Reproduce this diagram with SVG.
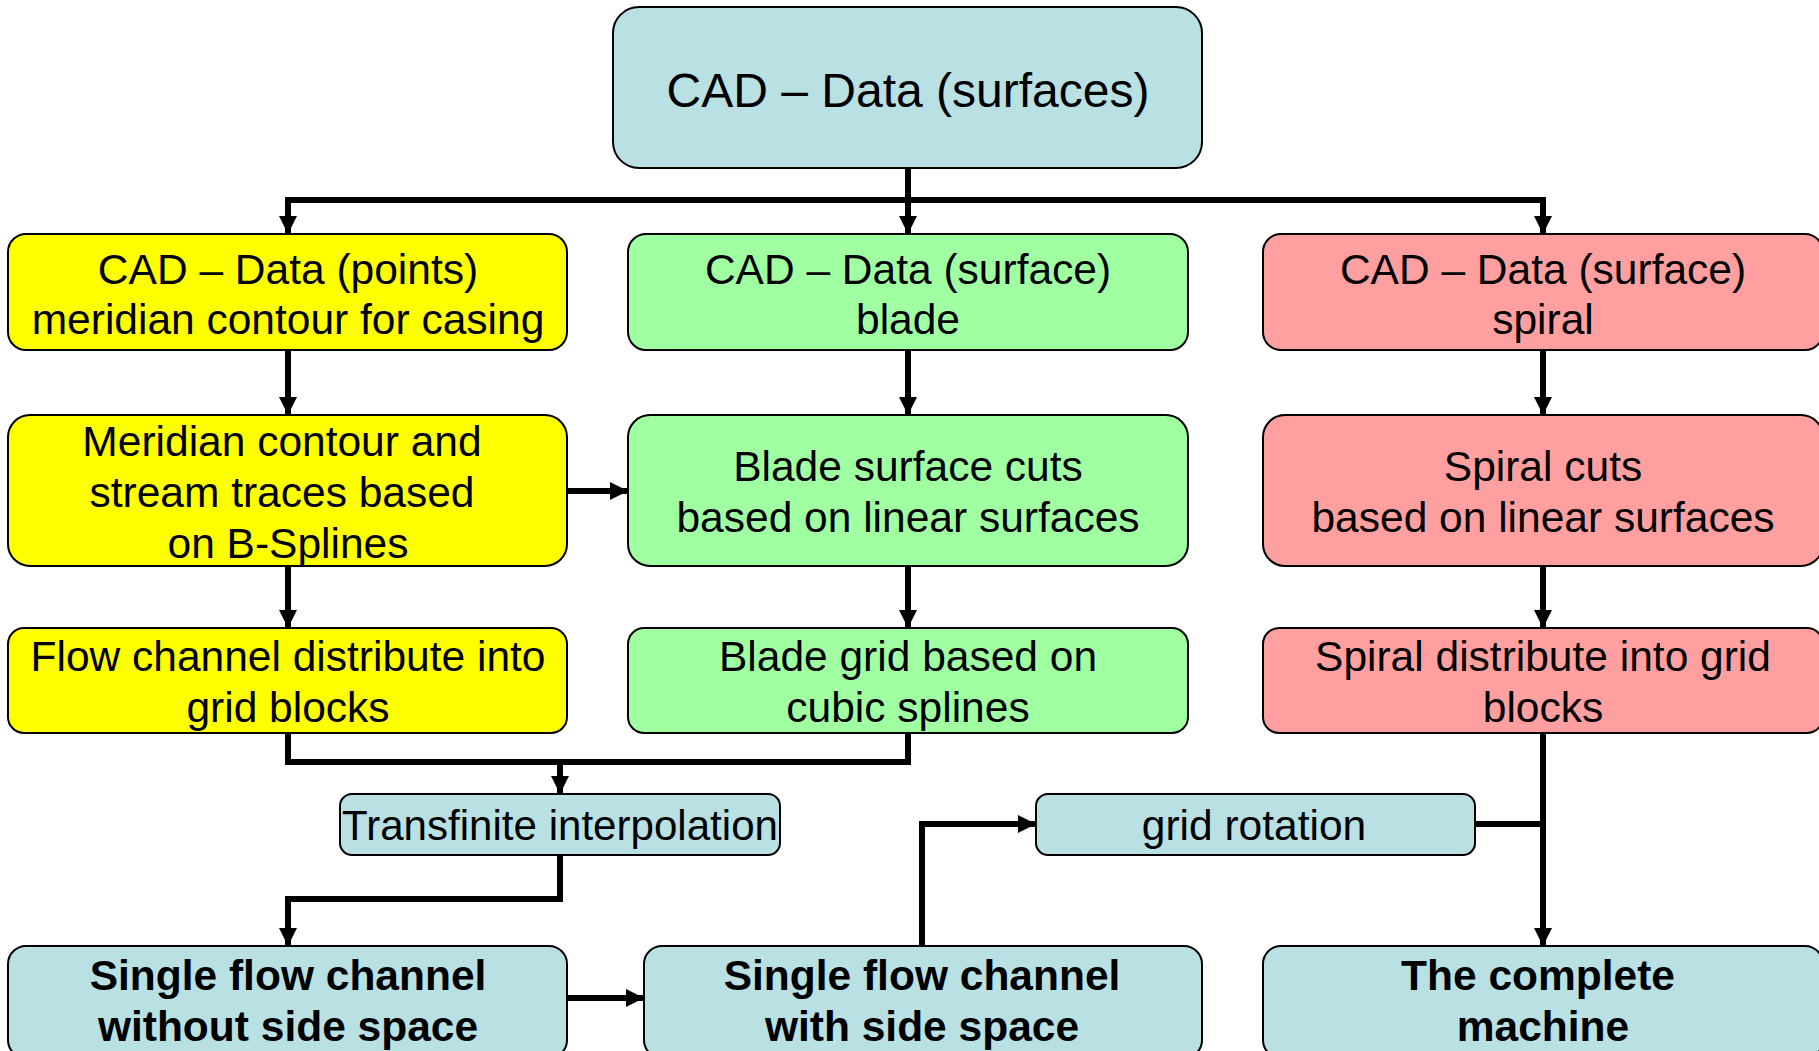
<svg xmlns="http://www.w3.org/2000/svg" width="1819" height="1051" viewBox="0 0 1819 1051">
<defs>
<style>
.box{stroke:#000;stroke-width:2}
.blue{fill:#B9E0E3}
.yellow{fill:#FFFF00}
.green{fill:#A0FFA0}
.red{fill:#FF9F9F}
text{font-family:"Liberation Sans",Arial,sans-serif;font-size:42.5px;fill:#000;text-anchor:middle}
.b{font-weight:bold}
.conn{fill:none;stroke:#000;stroke-width:6;stroke-linejoin:miter}
</style>
<marker id="ah" markerUnits="userSpaceOnUse" markerWidth="18" markerHeight="18" refX="17" refY="9" orient="auto-start-reverse" viewBox="0 0 18 18">
<path d="M0,0 L18,9 L0,18 z" fill="#000"/>
</marker>
</defs>
<rect width="1819" height="1051" fill="#fff"/>

<g id="connectors">
<path class="conn" d="M908,168 V233" marker-end="url(#ah)"/>
<path class="conn" d="M288,233 V200 H1543 V233" marker-start="url(#ah)" marker-end="url(#ah)"/>
<path class="conn" d="M288,350 V414" marker-end="url(#ah)"/>
<path class="conn" d="M908,350 V414" marker-end="url(#ah)"/>
<path class="conn" d="M1543,350 V414" marker-end="url(#ah)"/>
<path class="conn" d="M567,491 H627" marker-end="url(#ah)"/>
<path class="conn" d="M288,566 V627" marker-end="url(#ah)"/>
<path class="conn" d="M908,566 V627" marker-end="url(#ah)"/>
<path class="conn" d="M1543,566 V627" marker-end="url(#ah)"/>
<path class="conn" d="M288,733 V762 H908 V733"/>
<path class="conn" d="M560,762 V793" marker-end="url(#ah)"/>
<path class="conn" d="M560,855 V899 H288 V945" marker-end="url(#ah)"/>
<path class="conn" d="M567,998 H643" marker-end="url(#ah)"/>
<path class="conn" d="M922,946 V824 H1035" marker-end="url(#ah)"/>
<path class="conn" d="M1543,733 V945" marker-end="url(#ah)"/>
<path class="conn" d="M1475,824 H1543"/>
</g>

<g id="n-cad-surfaces">
<rect class="box blue" x="613" y="7" width="589" height="161" rx="26"/>
<text x="908" y="107" style="font-size:48px">CAD – Data (surfaces)</text>
</g>

<g id="n-cad-points">
<rect class="box yellow" x="8" y="234" width="559" height="116" rx="18"/>
<text x="288" y="284">CAD – Data (points)</text>
<text x="288" y="334">meridian contour for casing</text>
</g>
<g id="n-cad-blade">
<rect class="box green" x="628" y="234" width="560" height="116" rx="18"/>
<text x="908" y="284">CAD – Data (surface)</text>
<text x="908" y="334">blade</text>
</g>
<g id="n-cad-spiral">
<rect class="box red" x="1263" y="234" width="560" height="116" rx="18"/>
<text x="1543" y="284">CAD – Data (surface)</text>
<text x="1543" y="334">spiral</text>
</g>

<g id="n-meridian">
<rect class="box yellow" x="8" y="415" width="559" height="151" rx="22"/>
<text x="282" y="456">Meridian contour and</text>
<text x="282" y="507">stream traces based</text>
<text x="288" y="558">on B-Splines</text>
</g>
<g id="n-blade-cuts">
<rect class="box green" x="628" y="415" width="560" height="151" rx="22"/>
<text x="908" y="481">Blade surface cuts</text>
<text x="908" y="532">based on linear surfaces</text>
</g>
<g id="n-spiral-cuts">
<rect class="box red" x="1263" y="415" width="560" height="151" rx="22"/>
<text x="1543" y="481">Spiral cuts</text>
<text x="1543" y="532">based on linear surfaces</text>
</g>

<g id="n-flow-blocks">
<rect class="box yellow" x="8" y="628" width="559" height="105" rx="16"/>
<text x="288" y="671">Flow channel distribute into</text>
<text x="288" y="722">grid blocks</text>
</g>
<g id="n-blade-grid">
<rect class="box green" x="628" y="628" width="560" height="105" rx="16"/>
<text x="908" y="671">Blade grid based on</text>
<text x="908" y="722">cubic splines</text>
</g>
<g id="n-spiral-blocks">
<rect class="box red" x="1263" y="628" width="560" height="105" rx="16"/>
<text x="1543" y="671">Spiral distribute into grid</text>
<text x="1543" y="722">blocks</text>
</g>

<g id="n-transfinite">
<rect class="box blue" x="340" y="794" width="440" height="61" rx="12"/>
<text x="560" y="840" textLength="436" lengthAdjust="spacingAndGlyphs">Transfinite interpolation</text>
</g>
<g id="n-grid-rotation">
<rect class="box blue" x="1036" y="794" width="439" height="61" rx="12"/>
<text x="1254" y="840">grid rotation</text>
</g>

<g id="n-single-without">
<rect class="box blue" x="8" y="946" width="559" height="112" rx="18"/>
<text class="b" x="288" y="990">Single flow channel</text>
<text class="b" x="288" y="1041">without side space</text>
</g>
<g id="n-single-with">
<rect class="box blue" x="644" y="946" width="558" height="112" rx="18"/>
<text class="b" x="922" y="990">Single flow channel</text>
<text class="b" x="922" y="1041">with side space</text>
</g>
<g id="n-complete">
<rect class="box blue" x="1263" y="946" width="560" height="112" rx="18"/>
<text class="b" x="1538" y="990">The complete</text>
<text class="b" x="1543" y="1041">machine</text>
</g>
</svg>
